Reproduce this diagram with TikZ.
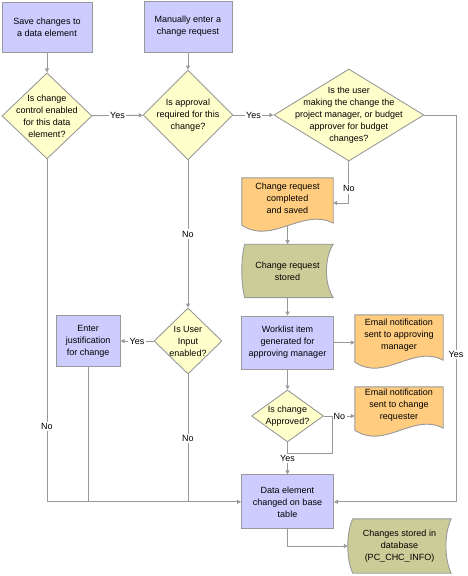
\documentclass[tikz,border=0pt]{standalone}
\usepackage{fontspec}
\setmainfont{Liberation Sans}
\usetikzlibrary{positioning, arrows.meta, shapes.geometric, calc, backgrounds}
\definecolor{procblue}{HTML}{CCCCFF}
\definecolor{decyellow}{HTML}{FFFFCC}
\definecolor{docorange}{HTML}{FFCC80}
\definecolor{storegreen}{HTML}{CCCC99}
\definecolor{edgegray}{HTML}{999999}

\begin{document}
\begin{tikzpicture}[
  x=1pt, y=-1pt,
  font=\fontsize{9}{12}\selectfont,
  proc/.style={draw=edgegray, fill=procblue, line width=0.9pt, minimum width=90pt,
               minimum height=50pt, align=center, inner sep=2pt},
  dec/.style={diamond, draw=edgegray, fill=decyellow, line width=0.9pt, inner sep=0pt},
  dtxt/.style={align=center, inner sep=0pt},
  doc/.style={minimum width=88pt, minimum height=40pt, align=center, inner sep=0pt},
  docfill/.style={draw=edgegray, fill=docorange, line width=0.9pt},
  store/.style={minimum width=91pt, minimum height=53pt, align=center, inner sep=0pt},
  storefill/.style={draw=edgegray, fill=storegreen, line width=0.9pt},
  arr/.style={-{Triangle[length=4pt, width=4pt]}, draw=edgegray, line width=0.9pt},
  link/.style={draw=edgegray, line width=0.9pt},
  lbl/.style={fill=white, inner sep=1.5pt},
]
\useasboundingbox (0,0) rectangle (467,576);

% left column: data element changes
\node[proc] (save) at (47,27) {Save changes to\\a data element};
\node[dec, minimum width=90pt, minimum height=86pt, below=20pt of save,
      label={[dtxt]center:{Is change\\control enabled\\for this data\\element?}}] (ctrl) {};

% middle column: manual change request
\node[dec, minimum width=90pt, minimum height=90pt,
      label={[dtxt]center:{Is approval\\required for this\\change?}}] (appr) at (188,115) {};
\node[proc, minimum width=88pt, minimum height=51pt, above=17pt of appr] (manual) {Manually enter a\\change request};

% approver check
\node[dec, minimum width=150pt, minimum height=92pt, right=40pt of appr,
      label={[dtxt]center:{Is the user\\making the change the\\project manager, or budget\\approver for budget\\changes?}}] (mgr) {};

% approval workflow
\node[doc, minimum width=91pt] (saved) at (287.5,198) {Change request\\completed\\and saved};
\node[store, below=26pt of saved] (stored) {Change request\\stored};
\node[proc, minimum width=92pt, minimum height=53pt, below=18pt of stored] (work) {Worklist item\\generated for\\approving manager};
\node[doc] (mailmgr) at (399,335) {Email notification\\sent to approving\\manager};
\node[dec, minimum width=72pt, minimum height=52pt, below=20pt of work,
      label={[dtxt]center:{Is change\\Approved?}}] (ok) {};
\node[doc, minimum height=36pt] (mailreq) at (399,405) {Email notification\\sent to change\\requester};

% result
\node[proc, minimum width=92pt, minimum height=54pt, below=32pt of ok] (base) {Data element\\changed on base\\table};
\node[store, minimum width=103pt, minimum height=54pt] (db) at (399.5,546) {Changes stored in\\database\\(PC\_CHC\_INFO)};

% user input branch
\node[dec, minimum width=68pt, minimum height=66pt,
      label={[dtxt]center:{Is User\\Input\\enabled?}}] (input) at (188,341) {};
\node[proc, minimum width=64pt, minimum height=51pt, left=33pt of input] (just) {Enter\\justification\\for change};

\coordinate (rtop) at (456,115);
\coordinate (nobend) at ($(ok.east)+(8,0)$);
\coordinate (nojoin) at ($(ok.south)+(0,11)$);

% connectors and shapes behind the text
\begin{scope}[on background layer]
  \draw[arr] (save) -- (ctrl);
  \draw[arr] (manual) -- (appr);
  \draw[arr] (ctrl) -- node[lbl] (y1) {Yes} (appr);
  \draw[arr] (appr) -- node[lbl] (y2) {Yes} (mgr);
  \draw[arr] (mgr.south) |- node[lbl, pos=0.33] (n3) {No} ([yshift=-5pt]saved.east);
  \draw[arr] (mgr.east) -- (rtop) |- node[lbl, pos=0.31] (y3) {Yes} (base.east);
  \draw[arr] (saved) -- (stored);
  \draw[arr] (stored) -- (work);
  \draw[arr] (work.east) -- (work.east -| mailmgr.west);
  \draw[arr] (work) -- (ok);
  \draw[arr] (ok.east) -- node[lbl] (n4) {No} (ok.east -| mailreq.west);
  \draw[link] (nobend) |- (nojoin);
  \draw[arr] (ok) -- node[lbl] (y4) {Yes} (base);
  \draw[arr] (base.south) |- (db.west);
  \draw[arr] (ctrl.south) |- node[lbl, pos=0.39] (n1) {No} (base.west);
  \draw[link] (just.south) -- (just.south |- base.west);
  \draw[arr] (appr.south) -- node[lbl] (n2) {No} (input.north);
  \draw[link] (input.south) -- node[lbl] (n5) {No} (input.south |- base.west);
  \draw[arr] (input.west) -- node[lbl] (y5) {Yes} (just.east);

  % document shapes
  \path[docfill] (saved.north west) -- (saved.north east) -- ($(saved.south east)+(0,5)$)
    .. controls +(-30,-16) and +(30,20) .. ($(saved.south west)+(0,7)$) -- cycle;
  \path[docfill] (mailmgr.north west) -- (mailmgr.north east) -- ($(mailmgr.south east)+(0,5)$)
    .. controls +(-30,-16) and +(30,20) .. ($(mailmgr.south west)+(0,7)$) -- cycle;
  \path[docfill] (mailreq.north west) -- (mailreq.north east) -- ($(mailreq.south east)+(0,5)$)
    .. controls +(-30,-16) and +(30,20) .. ($(mailreq.south west)+(0,7)$) -- cycle;

  % stored data shapes
  \path[storefill] ($(stored.north west)+(3,0)$) -- (stored.north east)
    .. controls +(-9,14) and +(-9,-14) .. (stored.south east) -- ($(stored.south west)+(3,0)$)
    .. controls +(-4,-14) and +(-4,14) .. ($(stored.north west)+(3,0)$) -- cycle;
  \path[storefill] ($(db.north west)+(5,0)$) -- (db.north east)
    .. controls +(-7,14) and +(-7,-14) .. (db.south east) -- ($(db.south west)+(5,0)$)
    .. controls +(-6.7,-14) and +(-6.7,14) .. ($(db.north west)+(5,0)$) -- cycle;
\end{scope}

\end{tikzpicture}
\end{document}
